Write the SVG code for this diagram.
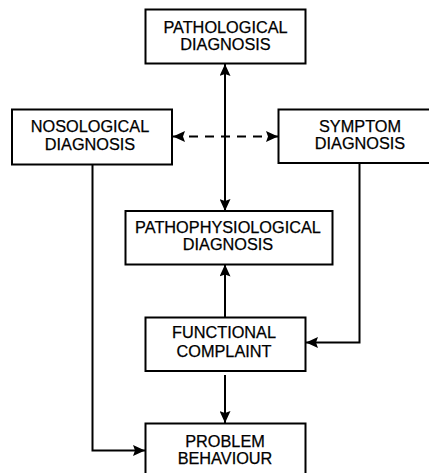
<svg xmlns="http://www.w3.org/2000/svg" width="429" height="473" viewBox="0 0 429 473">
<style>
.box{fill:#fff;stroke:#000;stroke-width:2}
.lbl{font-family:"Liberation Sans",Arial,sans-serif;font-size:16.3px;fill:#000;stroke:#000;stroke-width:0.25;text-anchor:middle}
.ln{fill:none;stroke:#000;stroke-width:2}
.dash{stroke-dasharray:9,7}
</style>
<defs>
<marker id="ah" viewBox="0 0 12 11" refX="12" refY="5.5" markerWidth="12" markerHeight="11" markerUnits="userSpaceOnUse" orient="auto-start-reverse">
<path d="M0,0 L12,5.5 L0,11 L2,5.5 z" fill="#000"/>
</marker>
</defs>
<rect width="429" height="473" fill="#fff"/>
<g id="connectors">
<path class="ln" d="M225,64 V211" marker-start="url(#ah)" marker-end="url(#ah)"/>
<path class="ln dash" d="M173,136.5 H278" marker-start="url(#ah)" marker-end="url(#ah)"/>
<path class="ln" d="M92.5,165 V450.5 H145" marker-end="url(#ah)"/>
<path class="ln" d="M359.5,163 V342.5 H306" marker-end="url(#ah)"/>
<path class="ln" d="M225,317 V264.5" marker-end="url(#ah)"/>
<path class="ln" d="M225,375 V423" marker-end="url(#ah)"/>
</g>
<g id="pathological">
<rect class="box" x="145.5" y="9.5" width="160" height="54"/>
<text class="lbl" x="225.5" y="33">PATHOLOGICAL</text>
<text class="lbl" x="225.5" y="50">DIAGNOSIS</text>
</g>
<g id="nosological">
<rect class="box" x="12" y="109.5" width="160" height="55"/>
<text class="lbl" x="90" y="132">NOSOLOGICAL</text>
<text class="lbl" x="90" y="150">DIAGNOSIS</text>
</g>
<g id="symptom">
<rect class="box" x="278.5" y="109.5" width="160" height="53.5"/>
<text class="lbl" x="360" y="132">SYMPTOM</text>
<text class="lbl" x="360" y="149">DIAGNOSIS</text>
</g>
<g id="pathophysiological">
<rect class="box" x="125.5" y="211" width="207" height="53.5"/>
<text class="lbl" x="228" y="233">PATHOPHYSIOLOGICAL</text>
<text class="lbl" x="228" y="250">DIAGNOSIS</text>
</g>
<g id="functional">
<rect class="box" x="145.5" y="317.5" width="160" height="53.5"/>
<text class="lbl" x="224" y="338">FUNCTIONAL</text>
<text class="lbl" x="224" y="357">COMPLAINT</text>
</g>
<g id="problem">
<rect class="box" x="145.5" y="423.5" width="160" height="60"/>
<text class="lbl" x="225" y="446.5">PROBLEM</text>
<text class="lbl" x="225" y="463.5">BEHAVIOUR</text>
</g>
</svg>
